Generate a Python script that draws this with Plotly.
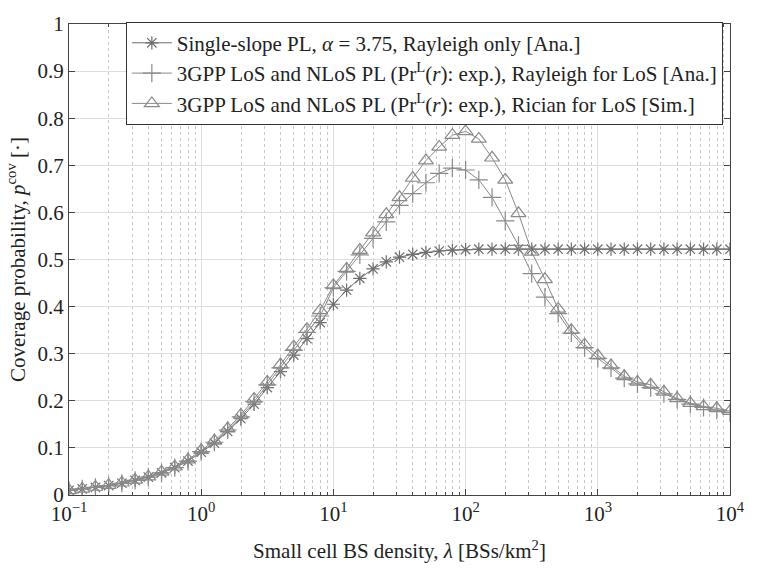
import plotly.graph_objects as go

# x sample points: log10 lambda from -1 to 4 step 0.1
log_lambda = [round(-1 + 0.1 * i, 1) for i in range(51)]
density = [10 ** v for v in log_lambda]

single_slope = [
    0.010, 0.013, 0.016, 0.020, 0.025, 0.031, 0.038, 0.047, 0.058, 0.072,
    0.091, 0.110, 0.135, 0.162, 0.193, 0.228, 0.262, 0.297, 0.332, 0.366,
    0.405, 0.435, 0.460, 0.480, 0.495, 0.505, 0.511, 0.515, 0.518, 0.520,
    0.521, 0.522, 0.522, 0.522, 0.522, 0.522, 0.522, 0.522, 0.522, 0.522,
    0.522, 0.522, 0.522, 0.522, 0.522, 0.522, 0.522, 0.522, 0.522, 0.522,
    0.522,
]
los_nlos_rayleigh = [
    0.010, 0.013, 0.016, 0.020, 0.025, 0.031, 0.038, 0.047, 0.058, 0.072,
    0.092, 0.112, 0.138, 0.166, 0.198, 0.234, 0.270, 0.307, 0.345, 0.380,
    0.440, 0.475, 0.510, 0.545, 0.580, 0.615, 0.640, 0.663, 0.683, 0.694,
    0.690, 0.669, 0.632, 0.582, 0.530, 0.470, 0.420, 0.385, 0.344, 0.313,
    0.290, 0.270, 0.248, 0.236, 0.228, 0.215, 0.203, 0.193, 0.186, 0.180,
    0.175,
]
los_nlos_rician = [
    0.010, 0.013, 0.017, 0.021, 0.026, 0.032, 0.039, 0.049, 0.060, 0.075,
    0.095, 0.115, 0.141, 0.170, 0.204, 0.240, 0.277, 0.315, 0.352, 0.392,
    0.445, 0.480, 0.520, 0.557, 0.596, 0.632, 0.673, 0.710, 0.739, 0.764,
    0.772, 0.756, 0.716, 0.669, 0.598, 0.516, 0.458, 0.395, 0.350, 0.319,
    0.296, 0.275, 0.252, 0.240, 0.234, 0.219, 0.205, 0.195, 0.188, 0.184,
    0.178,
]

x_tickvals = [0.1, 1, 10, 100, 1000, 10000]
x_ticktext = ["10<sup>−1</sup>", "10<sup>0</sup>", "10<sup>1</sup>",
              "10<sup>2</sup>", "10<sup>3</sup>", "10<sup>4</sup>"]
y_tickvals = [0, 0.1, 0.2, 0.3, 0.4, 0.5, 0.6, 0.7, 0.8, 0.9, 1]
y_ticktext = ["0", "0.1", "0.2", "0.3", "0.4", "0.5", "0.6", "0.7", "0.8", "0.9", "1"]

names = [
    "Single-slope PL, <i>α</i> = 3.75, Rayleigh only [Ana.]",
    "3GPP LoS and NLoS PL (Pr<sup>L</sup>(<i>r</i>): exp.), Rayleigh for LoS [Ana.]",
    "3GPP LoS and NLoS PL (Pr<sup>L</sup>(<i>r</i>): exp.), Rician for LoS [Sim.]",
]

FONT = "'Liberation Serif', 'Times New Roman', serif"
FS = 21

fig = go.Figure()
fig.add_trace(go.Scatter(
    x=density, y=single_slope, name=names[0], mode="lines+markers",
    line=dict(color="#6f6f6f", width=1),
    marker=dict(symbol="asterisk-open", size=11, color="#6f6f6f",
                line=dict(color="#6f6f6f", width=1.2)),
))
fig.add_trace(go.Scatter(
    x=density, y=los_nlos_rayleigh, name=names[1], mode="lines+markers",
    line=dict(color="#8a8a8a", width=1),
    marker=dict(symbol="cross-thin-open", size=13, color="#8a8a8a",
                line=dict(color="#8a8a8a", width=1.2)),
))
fig.add_trace(go.Scatter(
    x=density, y=los_nlos_rician, name=names[2], mode="lines+markers",
    line=dict(color="#8a8a8a", width=1),
    marker=dict(symbol="triangle-up-open", size=13, color="#8a8a8a",
                line=dict(color="#8a8a8a", width=1.2)),
))

fig.update_layout(
    width=757, height=571,
    margin=dict(l=69, r=14, t=13, b=75),
    paper_bgcolor="white", plot_bgcolor="white",
    font=dict(family=FONT, size=FS, color="#222222"),
    showlegend=True,
    legend=dict(
        x=0.086, y=1.005, xanchor="left", yanchor="top",
        bgcolor="white", bordercolor="#333333", borderwidth=1,
        font=dict(family=FONT, size=FS, color="#222222"),
        itemwidth=40, tracegroupgap=0,
    ),
    xaxis=dict(
        type="log", range=[-1, 4],
        tickvals=x_tickvals, ticktext=x_ticktext,
        ticklabeloverflow="allow",
        ticks="inside", ticklen=6, tickcolor="#444444",
        showline=True, linecolor="#444444", linewidth=1, mirror="ticks",
        showgrid=True, gridcolor="#dedede", gridwidth=1,
        zeroline=False,
        minor=dict(dtick="D1", ticks="inside", ticklen=3, tickcolor="#444444",
                   showgrid=True, gridcolor="#c8c8c8", griddash="dot",
                   gridwidth=1),
        title=dict(text="Small cell BS density, <i>λ</i> [BSs/km<sup>2</sup>]",
                   font=dict(family=FONT, size=FS), standoff=18),
        tickfont=dict(family=FONT, size=FS),
    ),
    yaxis=dict(
        range=[0, 1],
        tickvals=y_tickvals, ticktext=y_ticktext,
        ticks="inside", ticklen=6, tickcolor="#444444",
        showline=True, linecolor="#444444", linewidth=1, mirror="ticks",
        showgrid=True, gridcolor="#dedede", gridwidth=1,
        zeroline=False,
        title=dict(text="Coverage probability, <i>p</i><sup>cov</sup> [·]",
                   font=dict(family=FONT, size=FS), standoff=6),
        tickfont=dict(family=FONT, size=FS),
    ),
)

fig.write_html("out.html")
